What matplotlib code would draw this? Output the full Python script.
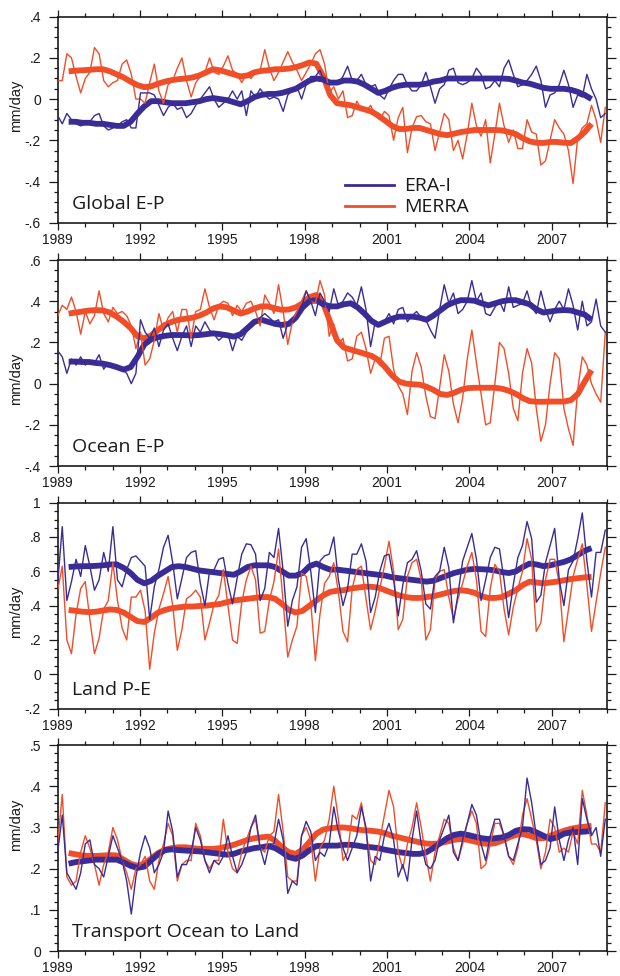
import numpy as np
import matplotlib
matplotlib.use('Agg')
from matplotlib import pyplot as plt
from matplotlib.lines import Line2D
from matplotlib.ticker import MultipleLocator, FuncFormatter

plt.rcParams['font.family'] = ['Liberation Sans', 'DejaVu Sans']

# monthly-ish samples (every ~2 months) and 12-month running means (quarterly samples)
t_month = np.linspace(1989.0, 2008.95, 120)
t_smooth = np.linspace(1989.4, 2008.45, 77)

# ---------- Global E-P ----------
era_global = [
    -0.08, -0.12, -0.07, -0.10, -0.12, -0.13,
    -0.12, -0.11, -0.08, -0.07, -0.13, -0.15,
    -0.14, -0.13, -0.11, -0.10, -0.14, -0.14,
    0.03, 0.03, 0.03, 0.02, -0.03, -0.08,
    -0.04, -0.02, -0.05, -0.04, -0.09, -0.07,
    -0.03, 0.00, 0.03, 0.06, 0.00, -0.04,
    -0.02, 0.00, 0.04, 0.00, 0.04, -0.08,
    0.04, 0.01, 0.05, 0.02, 0.00, 0.01,
    0.00, -0.06, 0.02, 0.04, 0.06, 0.00,
    0.07, 0.11, 0.11, 0.14, 0.08, 0.07,
    0.09, 0.08, 0.11, 0.16, 0.09, 0.09,
    0.12, 0.07, 0.06, 0.07, 0.02, 0.00,
    0.05, 0.09, 0.12, 0.12, 0.07, 0.04,
    0.04, 0.07, 0.13, 0.06, -0.02, 0.05,
    0.07, 0.14, 0.15, 0.08, 0.07, 0.08,
    0.10, 0.15, 0.12, 0.05, 0.06, 0.09,
    0.06, 0.15, 0.19, 0.12, 0.06, 0.07,
    0.09, 0.12, 0.16, 0.09, -0.04, 0.02,
    0.03, 0.07, 0.14, 0.07, -0.04, 0.02,
    0.01, 0.12, 0.05, 0.00, -0.09, -0.07,
]
merra_global = [
    0.09, 0.09, 0.22, 0.20, 0.11, 0.03,
    0.10, 0.13, 0.25, 0.22, 0.09, 0.06,
    0.08, 0.09, 0.17, 0.19, 0.12, 0.00,
    0.00, -0.02, 0.08, 0.17, 0.04, -0.02,
    0.07, 0.09, 0.15, 0.20, 0.09, 0.01,
    0.08, 0.11, 0.13, 0.20, 0.13, 0.12,
    0.16, 0.21, 0.14, 0.12, 0.08, 0.12,
    0.10, 0.13, 0.14, 0.24, 0.15, 0.09,
    0.13, 0.18, 0.23, 0.18, 0.14, 0.09,
    0.13, 0.17, 0.22, 0.24, 0.17, 0.03,
    0.06, 0.00, 0.04, -0.09, -0.08, -0.01,
    -0.05, -0.06, -0.03, -0.08, -0.10, -0.06,
    -0.08, -0.20, -0.09, -0.04, -0.26, -0.14,
    -0.085, -0.08, -0.11, -0.12, -0.25, -0.16,
    -0.07, -0.10, -0.25, -0.20, -0.29, -0.17,
    -0.02, -0.13, -0.18, -0.10, -0.31, -0.17,
    -0.02, -0.13, -0.21, -0.15, -0.24, -0.24,
    -0.10, -0.16, -0.17, -0.32, -0.30, -0.20,
    -0.10, -0.14, -0.17, -0.25, -0.41, -0.19,
    -0.14, -0.12, -0.03, -0.10, -0.21, -0.04,
]
era_global_sm = [
    -0.11, -0.11, -0.115, -0.115,
    -0.12, -0.12, -0.125, -0.13,
    -0.13, -0.11, -0.07, -0.035,
    -0.01, -0.01, -0.015, -0.02,
    -0.02, -0.02, -0.015, -0.01,
    0.0, 0.005, 0.0, -0.005,
    -0.015, -0.025, -0.01, 0.01,
    0.02, 0.025, 0.025, 0.03,
    0.04, 0.05, 0.07, 0.09,
    0.10, 0.095, 0.08, 0.08,
    0.09, 0.09, 0.085, 0.07,
    0.05, 0.03, 0.04, 0.055,
    0.065, 0.07, 0.07, 0.07,
    0.075, 0.085, 0.09, 0.10,
    0.10, 0.10, 0.10, 0.10,
    0.10, 0.10, 0.10, 0.10,
    0.098, 0.09, 0.08, 0.075,
    0.065, 0.055, 0.05, 0.05,
    0.05, 0.045, 0.035, 0.02,
    0.0,
]
merra_global_sm = [
    0.135, 0.138, 0.14, 0.142,
    0.145, 0.145, 0.135, 0.12,
    0.105, 0.085, 0.068, 0.058,
    0.062, 0.075, 0.085, 0.092,
    0.097, 0.10, 0.105, 0.115,
    0.13, 0.145, 0.14, 0.13,
    0.12, 0.11, 0.115, 0.13,
    0.137, 0.14, 0.145, 0.145,
    0.148, 0.155, 0.165, 0.178,
    0.172, 0.11, 0.02, -0.02,
    -0.025, -0.03, -0.04, -0.05,
    -0.06, -0.08, -0.105, -0.13,
    -0.145, -0.145, -0.14, -0.14,
    -0.15, -0.16, -0.17, -0.175,
    -0.168, -0.16, -0.155, -0.15,
    -0.15, -0.15, -0.15, -0.152,
    -0.16, -0.17, -0.19, -0.205,
    -0.212, -0.213, -0.208, -0.208,
    -0.212, -0.213, -0.19, -0.16,
    -0.12,
]

# ---------- Ocean E-P ----------
era_ocean = [
    0.16, 0.13, 0.05, 0.12, 0.09, 0.13,
    0.09, 0.11, 0.10, 0.14, 0.07, 0.10,
    0.08, 0.08, 0.07, 0.05, 0.00, 0.05,
    0.31, 0.25, 0.22, 0.27, 0.18, 0.26,
    0.29, 0.22, 0.16, 0.23, 0.28, 0.18,
    0.28, 0.25, 0.30, 0.26, 0.24, 0.21,
    0.23, 0.24, 0.16, 0.23, 0.21, 0.25,
    0.28, 0.30, 0.32, 0.34, 0.32, 0.30,
    0.31, 0.22, 0.29, 0.30, 0.33, 0.37,
    0.45, 0.40, 0.33, 0.44, 0.40, 0.35,
    0.46, 0.38, 0.40, 0.44, 0.42, 0.38,
    0.47, 0.36, 0.18, 0.30, 0.28, 0.30,
    0.34, 0.29, 0.36, 0.37, 0.30, 0.33,
    0.35, 0.32, 0.31, 0.26, 0.22, 0.36,
    0.48, 0.39, 0.44, 0.34, 0.36, 0.40,
    0.50, 0.40, 0.44, 0.34, 0.33, 0.37,
    0.40, 0.35, 0.47, 0.37, 0.38, 0.39,
    0.45, 0.37, 0.34, 0.45, 0.36, 0.30,
    0.36, 0.40, 0.36, 0.46, 0.38, 0.26,
    0.40, 0.28, 0.30, 0.41, 0.28, 0.25,
]
merra_ocean = [
    0.33, 0.38, 0.36, 0.42, 0.35, 0.24,
    0.35, 0.29, 0.33, 0.45, 0.34, 0.30,
    0.37, 0.34, 0.35, 0.33, 0.28, 0.17,
    0.25, 0.09, 0.12, 0.21, 0.34, 0.26,
    0.32, 0.35, 0.25, 0.36, 0.36, 0.22,
    0.35, 0.36, 0.46, 0.37, 0.31, 0.38,
    0.40, 0.39, 0.33, 0.38, 0.35, 0.39,
    0.40, 0.35, 0.28, 0.43, 0.39, 0.34,
    0.48, 0.35, 0.19, 0.30, 0.35, 0.40,
    0.45, 0.40, 0.39, 0.50, 0.43, 0.23,
    0.29, 0.19, 0.22, 0.11, 0.12, 0.23,
    0.25, 0.17, 0.05, 0.12, 0.09, 0.22,
    0.23, 0.07, -0.01, -0.05, -0.15, 0.06,
    0.15, 0.08, -0.06, -0.16, -0.17, -0.02,
    0.14, 0.06, -0.10, -0.19, -0.07, 0.12,
    0.26, 0.10, -0.05, -0.20, -0.19, 0.00,
    0.20, 0.17, 0.05, -0.12, -0.18, 0.05,
    0.17, 0.10, -0.12, -0.28, -0.20, 0.00,
    0.15, 0.12, -0.12, -0.22, -0.30, -0.03,
    0.13, 0.09, 0.00, -0.05, -0.09, 0.25,
]
era_ocean_sm = [
    0.107, 0.107, 0.105, 0.105,
    0.10, 0.097, 0.09, 0.08,
    0.068, 0.08, 0.13, 0.19,
    0.215, 0.225, 0.232, 0.236,
    0.236, 0.235, 0.234, 0.236,
    0.24, 0.244, 0.24, 0.235,
    0.228, 0.24, 0.27, 0.30,
    0.31, 0.30, 0.29, 0.285,
    0.29, 0.32, 0.37, 0.40,
    0.405, 0.385, 0.375, 0.375,
    0.385, 0.39, 0.37, 0.34,
    0.305, 0.285, 0.30, 0.315,
    0.325, 0.325, 0.325, 0.32,
    0.31, 0.33, 0.355, 0.38,
    0.395, 0.405, 0.405, 0.402,
    0.39, 0.38, 0.39, 0.40,
    0.405, 0.405, 0.395, 0.385,
    0.36, 0.345, 0.35, 0.355,
    0.357, 0.355, 0.345, 0.335,
    0.31,
]
merra_ocean_sm = [
    0.34, 0.345, 0.35, 0.355,
    0.357, 0.355, 0.345, 0.325,
    0.30, 0.27, 0.23, 0.22,
    0.235, 0.26, 0.285, 0.30,
    0.31, 0.315, 0.32, 0.33,
    0.345, 0.365, 0.375, 0.37,
    0.355, 0.34, 0.35, 0.365,
    0.375, 0.375, 0.365, 0.358,
    0.36, 0.37, 0.39, 0.42,
    0.43, 0.39, 0.30, 0.21,
    0.175, 0.165, 0.155, 0.145,
    0.135, 0.115, 0.08, 0.04,
    0.01, 0.0, -0.003, -0.005,
    -0.015, -0.03, -0.05, -0.055,
    -0.045, -0.03, -0.022, -0.02,
    -0.02, -0.02, -0.02, -0.025,
    -0.035, -0.05, -0.07, -0.085,
    -0.088, -0.088, -0.087, -0.087,
    -0.087, -0.08, -0.05, 0.01,
    0.065,
]

# ---------- Land P-E ----------
era_land = [
    0.53, 0.86, 0.43, 0.54, 0.67, 0.57,
    0.75, 0.63, 0.49, 0.55, 0.71, 0.60,
    0.86, 0.55, 0.51, 0.61, 0.68, 0.69,
    0.66, 0.63, 0.32, 0.51, 0.61, 0.74,
    0.81, 0.65, 0.44, 0.56, 0.68, 0.71,
    0.72, 0.53, 0.40, 0.60, 0.61, 0.67,
    0.68, 0.53, 0.41, 0.56, 0.70, 0.76,
    0.755, 0.70, 0.43, 0.50, 0.71, 0.68,
    0.85, 0.60, 0.28, 0.43, 0.51, 0.74,
    0.79, 0.60, 0.36, 0.66, 0.69, 0.70,
    0.80, 0.55, 0.40, 0.50, 0.70, 0.70,
    0.76, 0.66, 0.36, 0.45, 0.60, 0.69,
    0.70, 0.55, 0.34, 0.52, 0.65, 0.67,
    0.72, 0.60, 0.41, 0.38, 0.57, 0.60,
    0.74, 0.62, 0.30, 0.47, 0.66, 0.74,
    0.82, 0.67, 0.43, 0.55, 0.68, 0.74,
    0.73, 0.55, 0.33, 0.52, 0.68, 0.75,
    0.89, 0.79, 0.42, 0.46, 0.65, 0.75,
    0.85, 0.55, 0.40, 0.61, 0.66, 0.79,
    0.94, 0.66, 0.45, 0.71, 0.71, 0.84,
]
merra_land = [
    0.49, 0.63, 0.20, 0.12, 0.35, 0.50,
    0.54, 0.32, 0.12, 0.21, 0.38, 0.43,
    0.65, 0.43, 0.27, 0.20, 0.45, 0.45,
    0.49, 0.37, 0.03, 0.24, 0.38, 0.47,
    0.57, 0.40, 0.14, 0.26, 0.44, 0.46,
    0.49, 0.45, 0.20, 0.30, 0.41, 0.46,
    0.61, 0.40, 0.20, 0.18, 0.42, 0.55,
    0.63, 0.55, 0.24, 0.25, 0.43, 0.54,
    0.73, 0.42, 0.10, 0.20, 0.28, 0.59,
    0.57, 0.42, 0.08, 0.35, 0.53, 0.57,
    0.65, 0.48, 0.25, 0.19, 0.50, 0.61,
    0.63, 0.44, 0.26, 0.37, 0.50, 0.63,
    0.775, 0.60, 0.26, 0.32, 0.57, 0.65,
    0.67, 0.55, 0.20, 0.26, 0.55, 0.60,
    0.61, 0.45, 0.32, 0.44, 0.53, 0.63,
    0.71, 0.55, 0.25, 0.22, 0.50, 0.64,
    0.60, 0.38, 0.23, 0.39, 0.50, 0.60,
    0.79, 0.67, 0.25, 0.30, 0.55, 0.67,
    0.67, 0.53, 0.19, 0.38, 0.57, 0.67,
    0.76, 0.52, 0.25, 0.42, 0.59, 0.74,
]
era_land_sm = [
    0.625, 0.628, 0.63, 0.63,
    0.632, 0.635, 0.64, 0.64,
    0.62, 0.59, 0.55, 0.53,
    0.545, 0.575, 0.60, 0.625,
    0.63, 0.625, 0.615, 0.605,
    0.60, 0.595, 0.59, 0.585,
    0.58, 0.60, 0.625, 0.635,
    0.635, 0.635, 0.625, 0.60,
    0.575, 0.575, 0.59, 0.63,
    0.645, 0.625, 0.61, 0.61,
    0.605, 0.60, 0.595, 0.59,
    0.585, 0.58, 0.575, 0.565,
    0.56, 0.555, 0.55, 0.545,
    0.54, 0.545, 0.56, 0.575,
    0.59, 0.60, 0.61, 0.614,
    0.612, 0.61, 0.605, 0.595,
    0.59, 0.60, 0.625, 0.645,
    0.64, 0.63, 0.635, 0.645,
    0.655, 0.67, 0.695, 0.72,
    0.735,
]
merra_land_sm = [
    0.375, 0.37, 0.365, 0.362,
    0.365, 0.372, 0.378, 0.375,
    0.36, 0.335, 0.31, 0.305,
    0.33, 0.36, 0.375, 0.385,
    0.39, 0.395, 0.395, 0.398,
    0.40, 0.405, 0.41, 0.42,
    0.43, 0.435, 0.44, 0.445,
    0.45, 0.45, 0.44, 0.41,
    0.375, 0.36, 0.37, 0.40,
    0.43, 0.46, 0.48, 0.487,
    0.49, 0.50, 0.505, 0.51,
    0.51, 0.505, 0.49, 0.475,
    0.46, 0.45, 0.445, 0.445,
    0.45, 0.455, 0.465, 0.475,
    0.485, 0.49, 0.485, 0.475,
    0.455, 0.445, 0.445, 0.45,
    0.47, 0.49, 0.52, 0.54,
    0.535, 0.53, 0.535, 0.54,
    0.548, 0.555, 0.56, 0.565,
    0.567,
]

# ---------- Transport Ocean to Land ----------
era_trans = [
    0.24, 0.33, 0.19, 0.17, 0.15, 0.19,
    0.26, 0.27, 0.21, 0.20, 0.18, 0.23,
    0.28, 0.25, 0.22, 0.17, 0.09, 0.18,
    0.24, 0.28, 0.25, 0.19, 0.21, 0.24,
    0.34, 0.29, 0.18, 0.21, 0.21, 0.24,
    0.30, 0.27, 0.22, 0.19, 0.22, 0.21,
    0.23, 0.28, 0.23, 0.19, 0.21, 0.24,
    0.30, 0.33, 0.25, 0.21, 0.26, 0.26,
    0.32, 0.27, 0.14, 0.17, 0.16, 0.28,
    0.315, 0.29, 0.22, 0.24, 0.23, 0.26,
    0.35, 0.29, 0.25, 0.22, 0.25, 0.28,
    0.35, 0.30, 0.17, 0.23, 0.22, 0.28,
    0.31, 0.27, 0.18, 0.21, 0.17, 0.27,
    0.34, 0.26, 0.21, 0.20, 0.22, 0.27,
    0.30, 0.33, 0.24, 0.22, 0.27, 0.31,
    0.356, 0.33, 0.26, 0.22, 0.28, 0.32,
    0.32, 0.28, 0.23, 0.22, 0.26, 0.30,
    0.42, 0.36, 0.28, 0.21, 0.22, 0.25,
    0.35, 0.27, 0.22, 0.27, 0.30, 0.21,
    0.37, 0.32, 0.28, 0.30, 0.23, 0.32,
]
merra_trans = [
    0.26, 0.38, 0.18, 0.16, 0.17, 0.24,
    0.28, 0.25, 0.21, 0.16, 0.21, 0.24,
    0.30, 0.27, 0.22, 0.19, 0.15, 0.20,
    0.21, 0.23, 0.17, 0.15, 0.22, 0.26,
    0.31, 0.28, 0.17, 0.21, 0.22, 0.22,
    0.31, 0.28, 0.22, 0.20, 0.22, 0.22,
    0.32, 0.24, 0.20, 0.19, 0.24, 0.27,
    0.30, 0.32, 0.25, 0.24, 0.28, 0.29,
    0.38, 0.29, 0.18, 0.17, 0.17, 0.28,
    0.30, 0.27, 0.17, 0.25, 0.27, 0.32,
    0.40, 0.32, 0.22, 0.24, 0.33, 0.32,
    0.36, 0.29, 0.22, 0.21, 0.27, 0.33,
    0.39, 0.35, 0.24, 0.20, 0.26, 0.30,
    0.36, 0.30, 0.23, 0.17, 0.24, 0.28,
    0.32, 0.31, 0.25, 0.22, 0.26, 0.31,
    0.34, 0.31, 0.20, 0.21, 0.26, 0.31,
    0.31, 0.28, 0.23, 0.21, 0.25, 0.33,
    0.37, 0.32, 0.27, 0.20, 0.24, 0.32,
    0.30, 0.24, 0.25, 0.24, 0.29, 0.26,
    0.39, 0.33, 0.26, 0.26, 0.24, 0.36,
]
era_trans_sm = [
    0.212, 0.216, 0.218, 0.22,
    0.222, 0.222, 0.222, 0.222,
    0.215, 0.207, 0.202, 0.205,
    0.22, 0.235, 0.245, 0.247,
    0.245, 0.244, 0.243, 0.242,
    0.24, 0.238, 0.236, 0.234,
    0.236, 0.242, 0.246, 0.25,
    0.252, 0.255, 0.25, 0.24,
    0.228, 0.224, 0.232, 0.245,
    0.255, 0.256, 0.256, 0.256,
    0.258, 0.258, 0.256, 0.253,
    0.252, 0.25, 0.246, 0.243,
    0.24, 0.238, 0.236, 0.236,
    0.24, 0.25, 0.262, 0.274,
    0.282, 0.285, 0.282, 0.278,
    0.274, 0.272, 0.274, 0.276,
    0.282, 0.292, 0.296, 0.295,
    0.288, 0.28, 0.272, 0.276,
    0.285, 0.288, 0.289, 0.29,
    0.292,
]
merra_trans_sm = [
    0.238, 0.235, 0.232, 0.231,
    0.231, 0.232, 0.233, 0.232,
    0.222, 0.212, 0.207, 0.212,
    0.225, 0.238, 0.246, 0.25,
    0.252, 0.252, 0.25, 0.248,
    0.248, 0.248, 0.25, 0.254,
    0.258, 0.264, 0.27, 0.274,
    0.276, 0.278, 0.268, 0.252,
    0.24, 0.236, 0.246, 0.265,
    0.285, 0.295, 0.298, 0.30,
    0.30, 0.298, 0.295, 0.293,
    0.292, 0.29, 0.286, 0.28,
    0.276, 0.272, 0.268, 0.264,
    0.261, 0.26, 0.262, 0.266,
    0.27, 0.272, 0.27, 0.266,
    0.262, 0.26, 0.262, 0.268,
    0.276, 0.282, 0.284, 0.28,
    0.274, 0.274, 0.28, 0.286,
    0.292, 0.297, 0.30, 0.302,
    0.304,
]

titles = ['Global E-P', 'Ocean E-P', 'Land P-E', 'Transport Ocean to Land']
ylims = [(-0.6, 0.4), (-0.4, 0.6), (-0.2, 1.0), (0.0, 0.5)]
ymajor = [0.2, 0.2, 0.2, 0.1]
yminor = [0.05, 0.05, 0.05, 0.02]
ylab_pos = [0.568, 0.422, 0.468, 0.613]

panels = [
    (era_global, merra_global, era_global_sm, merra_global_sm),
    (era_ocean, merra_ocean, era_ocean_sm, merra_ocean_sm),
    (era_land, merra_land, era_land_sm, merra_land_sm),
    (era_trans, merra_trans, era_trans_sm, merra_trans_sm),
]

blue = '#3a2c96'
red = '#f04e28'
ink = '#1a1a1a'

fig = plt.figure(figsize=(6.2, 9.76), dpi=100)
bottoms = [0.7718, 0.5225, 0.2739, 0.0255]


def fmt_tick(v, pos):
    s = '%g' % round(v, 3)
    return s.replace('0.', '.')


for i in range(4):
    era, merra, era_sm, merra_sm = panels[i]
    assert len(era) == 120 and len(merra) == 120
    assert len(era_sm) == 77 and len(merra_sm) == 77
    ax = fig.add_axes([0.093, bottoms[i], 0.8855, 0.2111])

    # smoothed curves underneath, monthly curves on top
    ax.plot(t_smooth, merra_sm, color=red, lw=4.2, solid_capstyle='butt', zorder=2)
    ax.plot(t_smooth, era_sm, color=blue, lw=4.2, solid_capstyle='butt', zorder=2)
    ax.plot(t_month, merra, color=red, lw=1.0, zorder=3)
    ax.plot(t_month, era, color=blue, lw=1.0, zorder=3)

    ax.set_xlim(1989, 2009)
    ax.set_ylim(*ylims[i])
    ax.xaxis.set_major_locator(MultipleLocator(3))
    ax.xaxis.set_minor_locator(MultipleLocator(1))
    ax.yaxis.set_major_locator(MultipleLocator(ymajor[i]))
    ax.yaxis.set_minor_locator(MultipleLocator(yminor[i]))
    ax.yaxis.set_major_formatter(FuncFormatter(fmt_tick))

    ax.tick_params(which='both', direction='out', top=True, right=True,
                   labeltop=False, labelright=False, width=0.9, labelsize=10,
                   colors=ink)
    ax.tick_params(axis='x', which='major', length=5, pad=2.2)
    ax.tick_params(axis='x', which='minor', length=2.8)
    ax.tick_params(axis='y', which='major', length=6.5, pad=5.5)
    ax.tick_params(axis='y', which='minor', length=3.2)
    for sp in ax.spines.values():
        sp.set_linewidth(1.2)
        sp.set_color(ink)

    ax.set_ylabel('mm/day', fontsize=10.5, color=ink)
    ax.yaxis.set_label_coords(-0.063, ylab_pos[i])

    ax.text(0.026, 0.068, titles[i], transform=ax.transAxes, fontsize=14,
            family='Open Sans', color=ink, va='baseline')

    if i == 0:
        handles = [Line2D([], [], color=blue, lw=2.0),
                   Line2D([], [], color=red, lw=2.0)]
        ax.legend(handles, ['ERA-I', 'MERRA'], loc='upper left',
                  bbox_to_anchor=(0.524, 0.22), frameon=False,
                  handlelength=2.5, handletextpad=0.5, labelspacing=0.15,
                  borderaxespad=0, borderpad=0, labelcolor=ink,
                  prop={'family': 'Open Sans', 'size': 14})

fig.savefig('out.png', dpi=100)
